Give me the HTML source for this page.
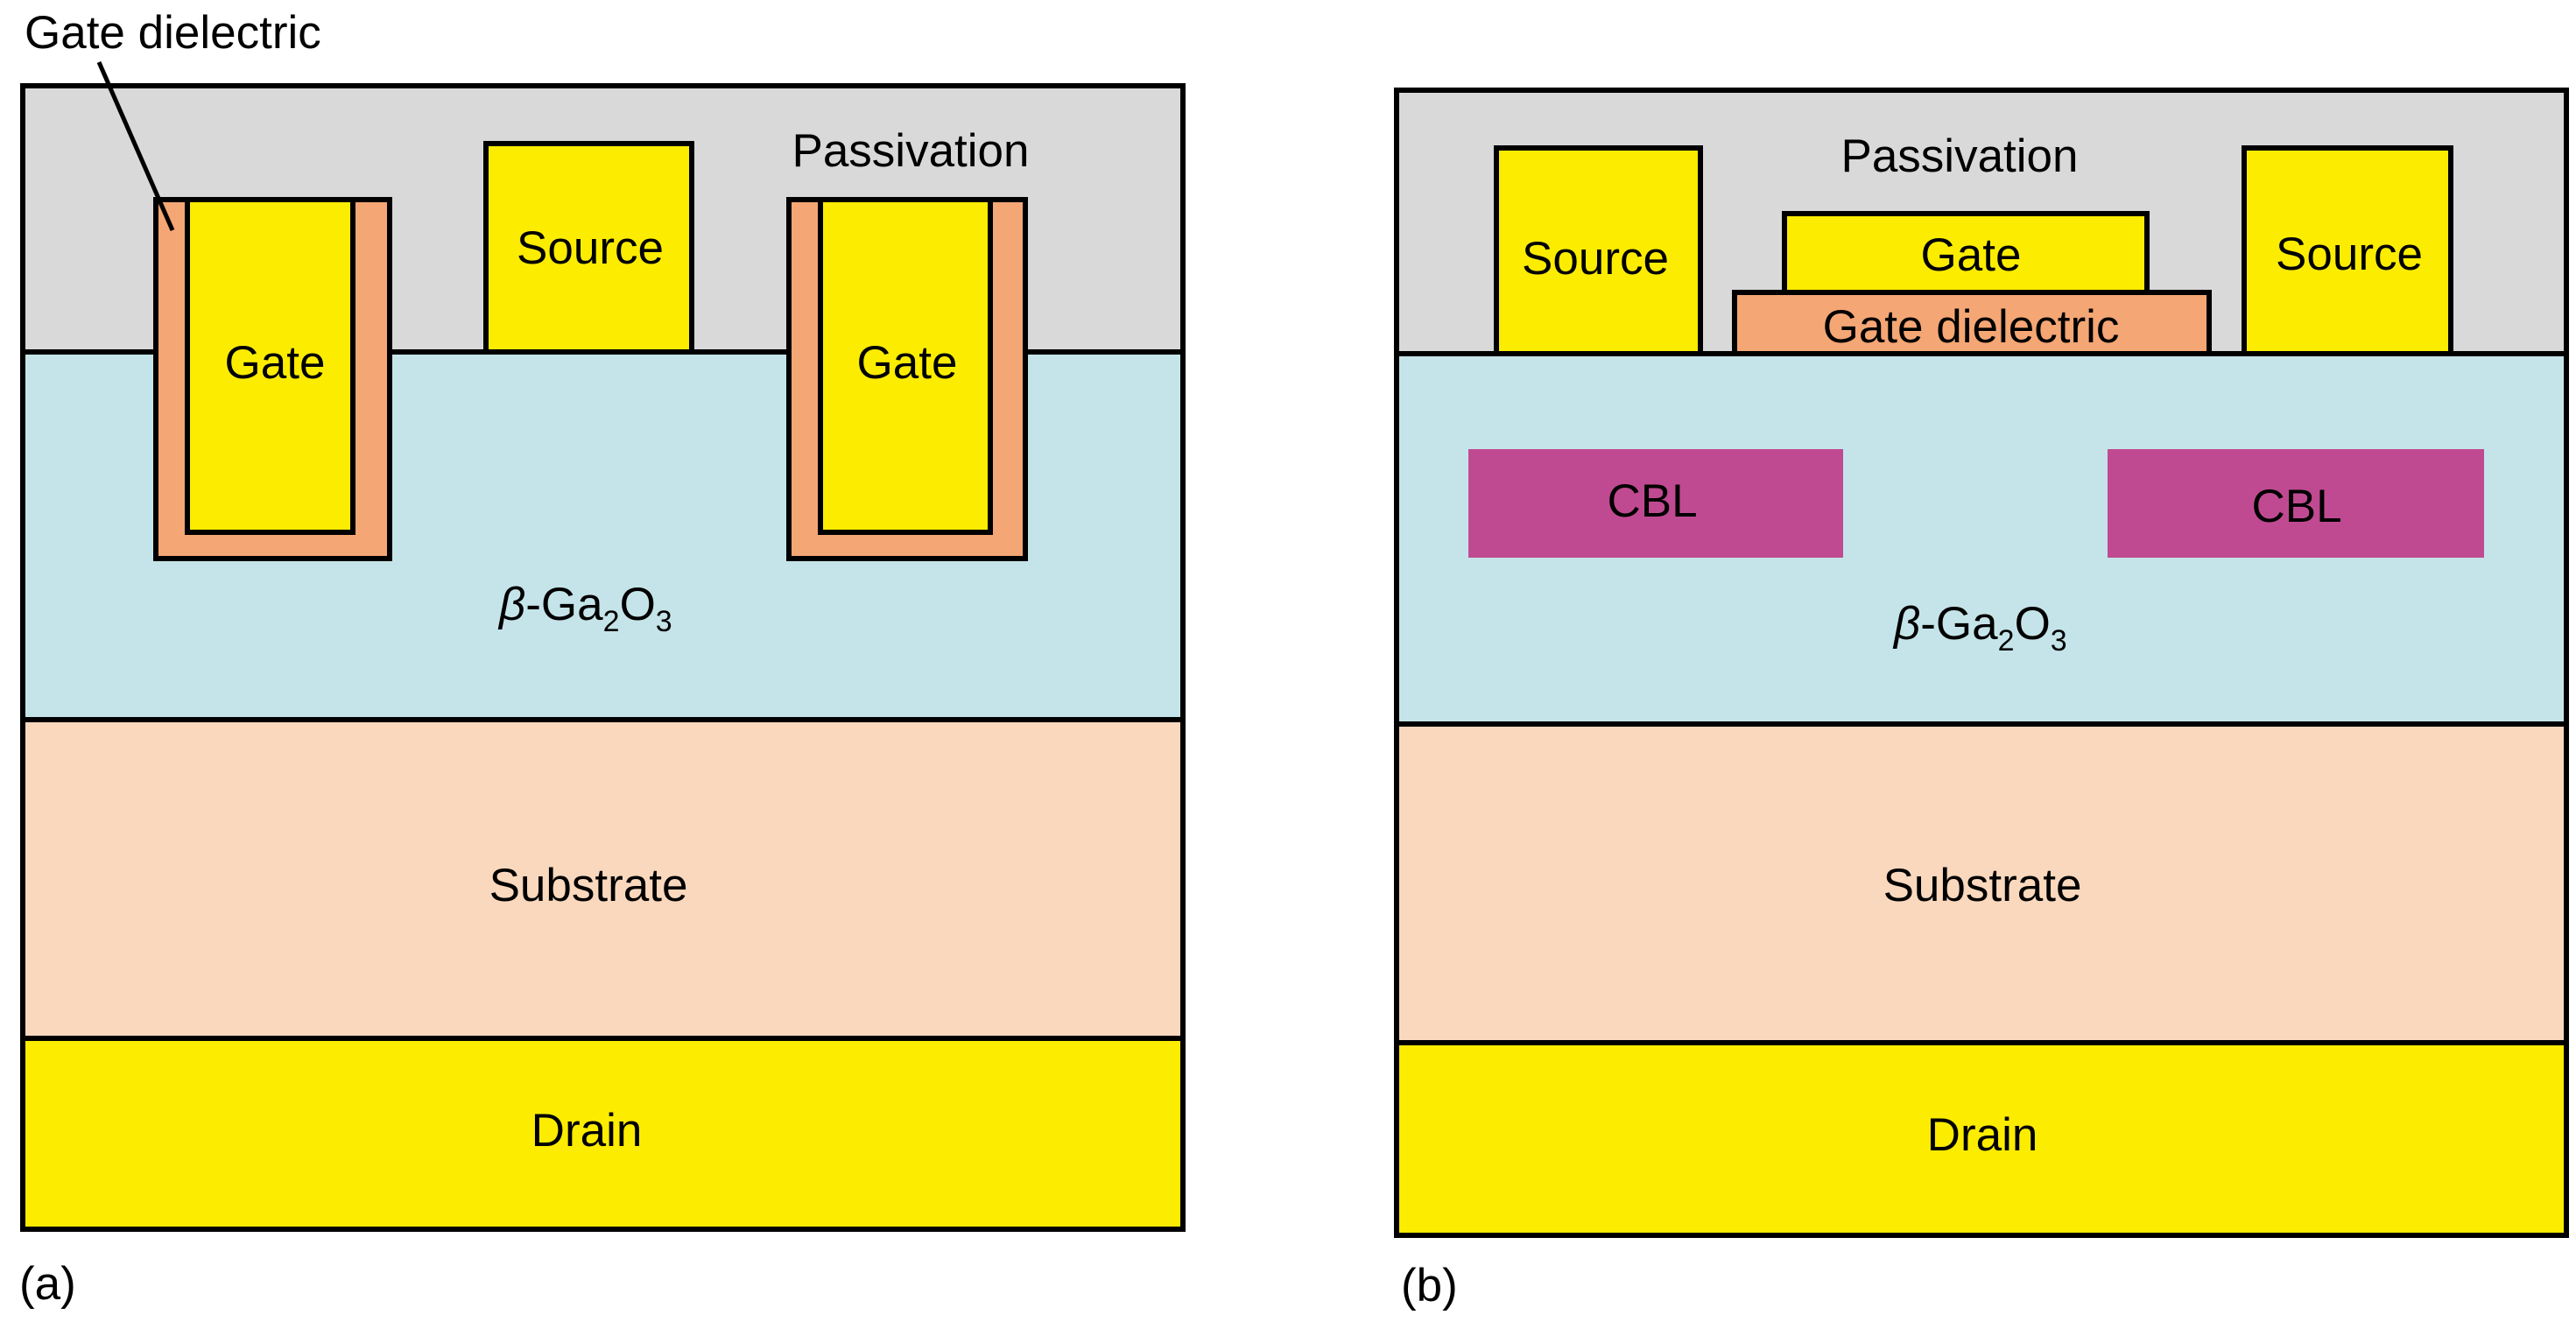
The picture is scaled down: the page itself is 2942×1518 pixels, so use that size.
<!DOCTYPE html>
<html><head><meta charset="utf-8"><style>
html,body{margin:0;padding:0;background:#fff}
svg{display:block}
text{font-family:"Liberation Sans",Arial,sans-serif;font-size:53px;fill:#000}
</style></head><body>
<svg width="2942" height="1518" viewBox="0 0 2942 1518" xmlns="http://www.w3.org/2000/svg">
<g stroke="#000" stroke-width="6">
<rect x="26" y="98" width="1325" height="304" fill="#d9d9d9"/>
<rect x="26" y="402" width="1325" height="420" fill="#c5e4e9"/>
<rect x="26" y="822" width="1325" height="364" fill="#fad8bd"/>
<rect x="26" y="1186" width="1325" height="218" fill="#fcec00"/>
<rect x="555" y="164" width="235" height="238" fill="#fcec00"/>
<rect x="178" y="228" width="267" height="410" fill="#f4a674"/>
<rect x="214" y="228" width="189" height="380" fill="#fcec00"/>
<rect x="901" y="228" width="270" height="410" fill="#f4a674"/>
<rect x="937" y="228" width="194" height="380" fill="#fcec00"/>
<line x1="113" y1="71" x2="197" y2="263" stroke-width="5"/>
<rect x="1595" y="103" width="1336" height="301" fill="#d9d9d9"/>
<rect x="1595" y="404" width="1336" height="423" fill="#c5e4e9"/>
<rect x="1595" y="827" width="1336" height="364" fill="#fad8bd"/>
<rect x="1595" y="1191" width="1336" height="220" fill="#fcec00"/>
<rect x="1709" y="169" width="233" height="235" fill="#fcec00"/>
<rect x="2563" y="169" width="236" height="235" fill="#fcec00"/>
<rect x="2038" y="244" width="414" height="90" fill="#fcec00"/>
<rect x="1981" y="334" width="542" height="70" fill="#f4a674"/>
</g>
<rect x="1677" y="513" width="428" height="124" fill="#c04a91"/>
<rect x="2407" y="513" width="430" height="124" fill="#c04a91"/>
<g text-anchor="middle">
<text x="1040" y="190">Passivation</text>
<text x="674" y="301">Source</text>
<text x="314" y="432">Gate</text>
<text x="1036" y="432">Gate</text>
<text x="672" y="1029">Substrate</text>
<text x="670" y="1309">Drain</text>
<text x="2238" y="196">Passivation</text>
<text x="1822" y="313">Source</text>
<text x="2251" y="309">Gate</text>
<text x="2251" y="391">Gate dielectric</text>
<text x="2683" y="308">Source</text>
<text x="1887" y="590">CBL</text>
<text x="2623" y="596">CBL</text>
<text x="2264" y="1029">Substrate</text>
<text x="2264" y="1314">Drain</text>
</g>
<text x="28" y="55">Gate dielectric</text>
<text x="570" y="708"><tspan font-style="italic">β</tspan>-Ga<tspan font-size="34" dy="13">2</tspan><tspan dy="-13">O</tspan><tspan font-size="34" dy="13">3</tspan></text>
<text x="2163" y="730"><tspan font-style="italic">β</tspan>-Ga<tspan font-size="34" dy="13">2</tspan><tspan dy="-13">O</tspan><tspan font-size="34" dy="13">3</tspan></text>
<text x="22" y="1484">(a)</text>
<text x="1600" y="1486">(b)</text>
</svg>
</body></html>
